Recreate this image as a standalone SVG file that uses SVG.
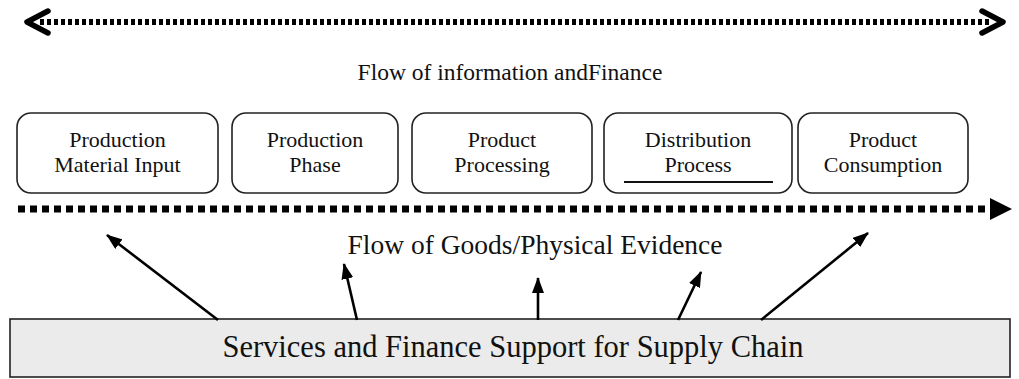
<svg xmlns="http://www.w3.org/2000/svg" width="1019" height="379" viewBox="0 0 1019 379">
  <style>
    text { font-family: "Liberation Serif", "Times New Roman", serif; fill: #111; text-anchor: middle; }
    .stage rect { fill: #fff; stroke: #222; stroke-width: 1.6; }
    .stage text { font-size: 22px; }
    .title { font-size: 23.5px; }
    .goods { font-size: 27.5px; }
    .base { font-size: 30.5px; }
    .dots { fill: none; stroke: #000; }
    .link { stroke: #000; stroke-width: 2.6; fill: none; marker-end: url(#tri); }
    .chev { fill: none; stroke: #000; stroke-width: 5.5; stroke-linecap: round; stroke-linejoin: round; }
  </style>
  <defs>
    <marker id="tri" viewBox="0 0 16 12" refX="15" refY="6" markerWidth="16" markerHeight="12" markerUnits="userSpaceOnUse" orient="auto">
      <path d="M0,0 L16,6 L0,12 Z" fill="#000"/>
    </marker>
  </defs>

  <!-- information and finance flow (two-way) -->
  <g id="info-flow">
    <line class="dots" x1="40" y1="22" x2="990" y2="22" stroke-width="6" stroke-dasharray="4 3"/>
    <polyline class="chev" points="48,11 27,22 48,33"/>
    <polyline class="chev" points="982,11 1003,22 982,33"/>
    <text class="title" x="510" y="80">Flow of information andFinance</text>
  </g>

  <!-- supply chain stages -->
  <g id="stage-1" class="stage">
    <rect x="17" y="113" width="201" height="80" rx="14"/>
    <text x="117.5" y="147">Production</text>
    <text x="117.5" y="172">Material Input</text>
  </g>
  <g id="stage-2" class="stage">
    <rect x="232" y="113" width="166" height="80" rx="14"/>
    <text x="315" y="147">Production</text>
    <text x="315" y="172">Phase</text>
  </g>
  <g id="stage-3" class="stage">
    <rect x="412" y="113" width="180" height="80" rx="14"/>
    <text x="502" y="147">Product</text>
    <text x="502" y="172">Processing</text>
  </g>
  <g id="stage-4" class="stage">
    <rect x="604" y="113" width="188" height="80" rx="14"/>
    <text x="698" y="147">Distribution</text>
    <text x="698" y="172">Process</text>
    <line x1="624" y1="182" x2="773" y2="182" stroke="#111" stroke-width="2"/>
  </g>
  <g id="stage-5" class="stage">
    <rect x="798" y="113" width="170" height="80" rx="14"/>
    <text x="883" y="147">Product</text>
    <text x="883" y="172">Consumption</text>
  </g>

  <!-- goods / physical flow -->
  <g id="goods-flow">
    <line class="dots" x1="18" y1="209" x2="992" y2="209" stroke-width="7" stroke-dasharray="7 5"/>
    <path d="M990,198 L1012,209 L990,220 Z" fill="#000"/>
    <text class="goods" x="535" y="254">Flow of Goods/Physical Evidence</text>
  </g>

  <!-- support base -->
  <g id="support">
    <rect x="10" y="319" width="1000" height="58" fill="#ebebeb" stroke="#222" stroke-width="1.6"/>
    <text class="base" x="513" y="357">Services and Finance Support for Supply Chain</text>
  </g>

  <!-- support links into the chain -->
  <g id="connectors">
    <line class="link" x1="218" y1="320" x2="107" y2="235"/>
    <line class="link" x1="357" y1="320" x2="344" y2="264"/>
    <line class="link" x1="538" y1="320" x2="538" y2="278"/>
    <line class="link" x1="678" y1="320" x2="701" y2="272"/>
    <line class="link" x1="761" y1="320" x2="868" y2="233"/>
  </g>
</svg>
